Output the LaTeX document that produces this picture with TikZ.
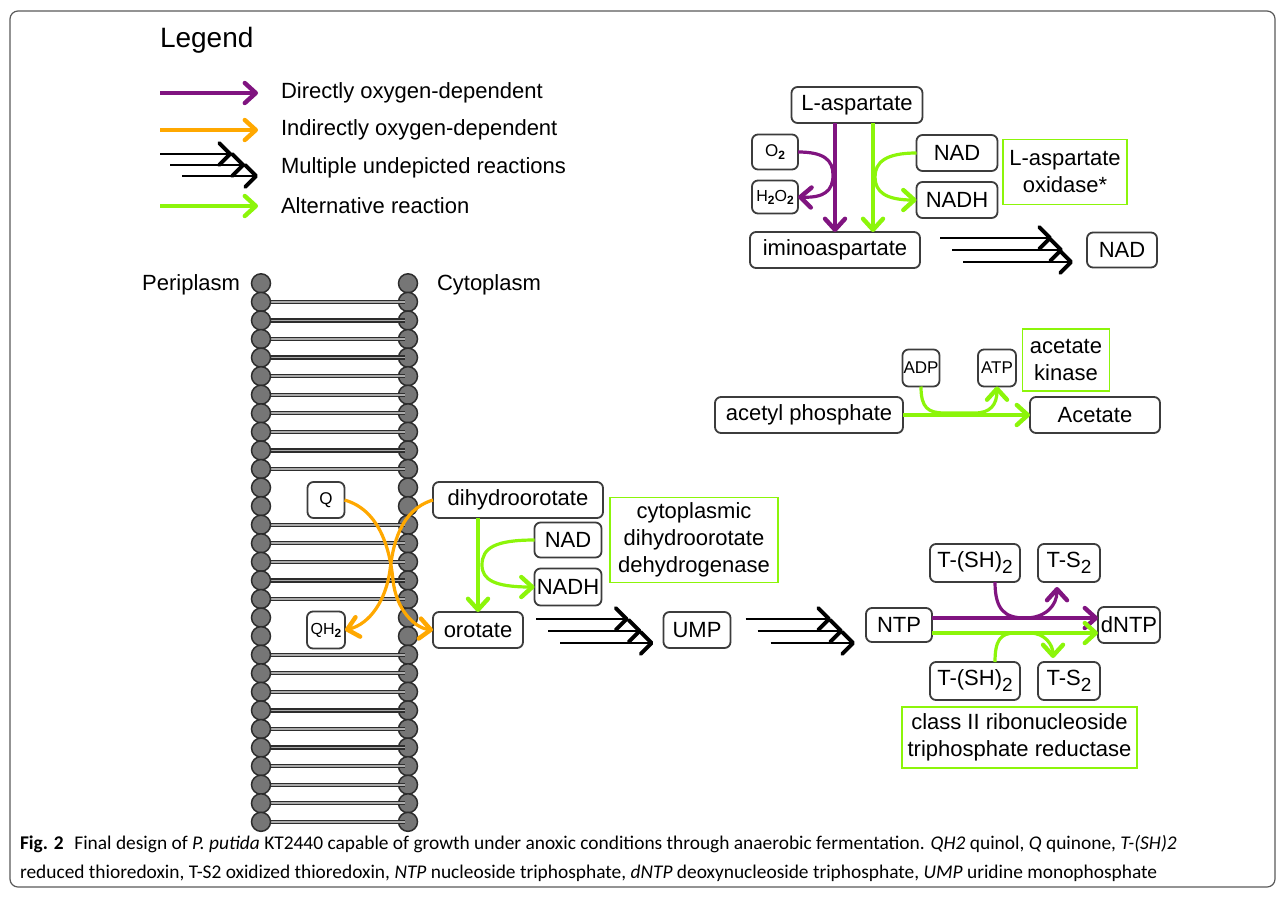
\documentclass[tikz,border=0pt]{standalone}
\usepackage{fontspec}
\setmainfont{Liberation Sans}
\newfontfamily\capfont{Carlito}
\usetikzlibrary{arrows.meta,calc}
\definecolor{purp}{RGB}{128,20,128}
\definecolor{orng}{RGB}{255,168,0}
\definecolor{lime}{RGB}{140,245,10}
\definecolor{boxline}{RGB}{60,60,60}
\definecolor{headfill}{RGB}{118,118,118}
\definecolor{headline}{RGB}{45,45,45}
\definecolor{tailin}{RGB}{170,170,170}
\newcommand\bsub[1]{\raisebox{-6pt}{\fontsize{19}{19}\selectfont #1}}
\newcommand\ssub[1]{\raisebox{-3pt}{\fontsize{12}{12}\selectfont\bfseries #1}}
\begin{document}
\begin{tikzpicture}[x=1pt,y=-1pt,
  every node/.style={inner sep=0pt, outer sep=0pt},
  mol/.style={draw=boxline, line width=1.8pt, rounded corners=6pt, fill=white, font=\fontsize{22}{26}\selectfont, align=center},
  smol/.style={mol, font=\fontsize{17}{19}\selectfont},
  enz/.style={draw=lime, line width=1.6pt, fill=white, font=\fontsize{22}{27}\selectfont, align=center},
  lab/.style={font=\fontsize{22}{26}\selectfont},
  purpA/.style={draw=purp, line width=3.2pt, -{Straight Barb[length=11pt,width=20pt,round,line width=4.4pt]}},
  orngA/.style={draw=orng, line width=3.2pt, -{Straight Barb[length=11pt,width=20pt,round,line width=4.4pt]}},
  limeA/.style={draw=lime, line width=3.2pt, -{Straight Barb[length=11pt,width=20pt,round,line width=4.4pt]}},
  multi/.style={draw=black, line width=2.8pt, -{Straight Barb[length=11pt,width=22pt,round,line width=3.8pt]}},
  headc/.style={fill=headfill, draw=headline, line width=1.5pt},
  tail/.style={draw=headline, line width=1.3pt, double=tailin, double distance=1.8pt},
  frame/.style={draw=black!65, line width=1.2pt, rounded corners=8pt}
]
\useasboundingbox (0,0) rectangle (1282,900);
\draw[frame] (10,11) rectangle (1275,887);

% ---------- Legend ----------
\node[font=\fontsize{28}{30}\selectfont, anchor=west] (legt) at (160,40) {Legend};
\coordinate (l1s) at (160,93); \coordinate (l1e) at (258,93);
\coordinate (l2s) at (160,130); \coordinate (l2e) at (258,130);
\coordinate (l4s) at (160,206); \coordinate (l4e) at (258,206);
\coordinate (l3as) at (160,154); \coordinate (l3ae) at (232,154);
\coordinate (l3bs) at (170,165); \coordinate (l3be) at (245,165);
\coordinate (l3cs) at (182,176); \coordinate (l3ce) at (258,176);
\draw[purpA] (l1s) -- (l1e);
\draw[orngA] (l2s) -- (l2e);
\draw[multi] (l3as) -- (l3ae);
\draw[multi] (l3bs) -- (l3be);
\draw[multi] (l3cs) -- (l3ce);
\draw[limeA] (l4s) -- (l4e);
\node[lab, anchor=west] (lt1) at (281,93) {Directly oxygen-dependent};
\node[lab, anchor=west] (lt2) at (281,130) {Indirectly oxygen-dependent};
\node[lab, anchor=west] (lt3) at (281,168) {Multiple undepicted reactions};
\node[lab, anchor=west] (lt4) at (281,206) {Alternative reaction};

% ---------- Membrane ----------
\node[lab, anchor=east] (peri) at (240,285) {Periplasm};
\node[lab, anchor=west] (cyto) at (437,285) {Cytoplasm};
\foreach \i in {0,...,29} {
  \pgfmathsetmacro\yy{283.3+18.57*\i}
  \draw[headc] (408,\yy) circle (9.5);
}
\foreach \i in {1,...,10} {\pgfmathsetmacro\yy{283.3+18.57*\i}\draw[tail] (261,\yy) -- (405,\yy);}
\foreach \i in {13,...,17} {\pgfmathsetmacro\yy{283.3+18.57*\i}\draw[tail] (261,\yy) -- (405,\yy);}
\foreach \i in {20,...,29} {\pgfmathsetmacro\yy{283.3+18.57*\i}\draw[tail] (261,\yy) -- (405,\yy);}
\foreach \i in {0,...,29} {
  \pgfmathsetmacro\yy{283.3+18.57*\i}
  \draw[headc] (261,\yy) circle (9.5);
}

% ---------- L-aspartate ----------
\node[mol, minimum width=131, minimum height=36] (lasp) at (857,105) {L-aspartate};
\node[smol, minimum width=46, minimum height=35] (o2) at (775,152) {O\ssub{2}};
\node[smol, minimum width=46, minimum height=33, font=\fontsize{16}{18}\selectfont] (h2o2) at (775,197) {H\ssub{2}O\ssub{2}};
\node[mol, minimum width=170, minimum height=36] (imino) at (835,250) {iminoaspartate};
\node[mol, minimum width=81, minimum height=36] (nad1) at (957,153) {NAD};
\node[mol, minimum width=81, minimum height=36] (nadh1) at (957,200) {NADH};
\node[enz, minimum width=124, minimum height=65] (laox) at (1065,172) {L-aspartate\\oxidase*};
\node[mol, minimum width=70, minimum height=35] (nad3) at (1122,250) {NAD};
\coordinate (pv) at (835,0);
\coordinate (gv) at (873,0);
\draw[purpA] (lasp.south -| pv) -- (imino.north -| pv);
\draw[purpA] (o2.east) .. controls (824,152) and (833,160) .. (833,175) .. controls (833,191) and (824,198) .. (h2o2.east);
\draw[limeA] (lasp.south -| gv) -- (imino.north -| gv);
\draw[limeA] (nad1.west) .. controls (886,153) and (875,162) .. (875,177) .. controls (875,192) and (886,200) .. (nadh1.west);
\draw[multi] ([shift={(20,-12)}]imino.east) -- ([shift={(-35,-12)}]nad3.west);
\draw[multi] ([shift={(32,0)}]imino.east) -- ([shift={(-24,0)}]nad3.west);
\draw[multi] ([shift={(43,12)}]imino.east) -- ([shift={(-14,12)}]nad3.west);

% ---------- Acetate ----------
\node[mol, minimum width=188, minimum height=36] (acp) at (809,415) {acetyl phosphate};
\node[smol, minimum width=37, minimum height=37] (adp) at (921,368) {ADP};
\node[smol, minimum width=38, minimum height=37] (atp) at (997,368) {ATP};
\node[enz, minimum width=87, minimum height=62] (acek) at (1066,360) {acetate\\kinase};
\node[mol, minimum width=130, minimum height=36] (acet) at (1095,415) {Acetate};
\draw[limeA] (acp.east) -- (acet.west);
\draw[limeA] (adp.south) .. controls (921,408) and (928,413) .. (945,413) -- (975,413) .. controls (990,413) and (997,405) .. (atp.south);

% ---------- Dihydroorotate ----------
\node[smol, minimum width=37, minimum height=36] (q) at (326,500) {Q};
\node[smol, minimum width=38, minimum height=37, font=\fontsize{16}{18}\selectfont] (qh2) at (326,630) {QH\ssub{2}};
\node[mol, minimum width=170, minimum height=36] (dhoro) at (518,500) {dihydroorotate};
\node[mol, minimum width=67, minimum height=35] (nad2) at (568,540) {NAD};
\node[mol, minimum width=67, minimum height=37] (nadh2) at (568,587) {NADH};
\node[enz, minimum width=168, minimum height=85] (cdhod) at (694,540) {cytoplasmic\\dihydroorotate\\dehydrogenase};
\node[mol, minimum width=90, minimum height=36] (orot) at (478,630) {orotate};
\node[mol, minimum width=67, minimum height=36] (ump) at (697,630) {UMP};
\draw[limeA] (dhoro.south -| orot.north) -- (orot.north);
\draw[limeA] (nad2.west) .. controls (495,540) and (482,548) .. (482,565) .. controls (482,580) and (495,587) .. (nadh2.west);
\draw[orngA] (q.east) .. controls (380,510) and (390,550) .. (393,580) .. controls (396,610) and (415,628) .. (orot.west);
\draw[orngA] (dhoro.west) .. controls (400,510) and (393,545) .. (390,570) .. controls (386,600) and (370,624) .. (qh2.east);
\draw[multi] ([shift={(13,-11)}]orot.east) -- ([shift={(-35,-11)}]ump.west);
\draw[multi] ([shift={(25,1)}]orot.east) -- ([shift={(-22,1)}]ump.west);
\draw[multi] ([shift={(37,13)}]orot.east) -- ([shift={(-10,13)}]ump.west);

% ---------- NTP ----------
\node[mol, minimum width=66, minimum height=34] (ntp) at (899,625) {NTP};
\node[mol, minimum width=62, minimum height=36] (dntp) at (1129,625) {dNTP};
\node[mol, minimum width=90, minimum height=38] (tsh1) at (975,563) {T-(SH)\bsub{2}};
\node[mol, minimum width=62, minimum height=38] (ts1) at (1069,563) {T-S\bsub{2}};
\node[mol, minimum width=90, minimum height=38] (tsh2) at (975,681) {T-(SH)\bsub{2}};
\node[mol, minimum width=62, minimum height=38] (ts2) at (1069,681) {T-S\bsub{2}};
\node[enz, minimum width=235, minimum height=61] (rnr) at (1019.5,737.5) {class II ribonucleoside\\triphosphate reductase};
\draw[multi] ([shift={(15,-11)}]ump.east) -- ([shift={(-35,-6)}]ntp.west);
\draw[multi] ([shift={(27,1)}]ump.east) -- ([shift={(-23,6)}]ntp.west);
\draw[multi] ([shift={(40,13)}]ump.east) -- ([shift={(-11,18)}]ntp.west);
\coordinate (pl) at (0,618);
\coordinate (gl) at (0,633);
\draw[purpA] (ntp.east |- pl) -- (dntp.west |- pl);
\draw[purpA] ([shift={(20,0)}]tsh1.south) .. controls (995,610) and (1005,618) .. (1025,618) .. controls (1045,618) and (1057,606) .. ([shift={(-12,5)}]ts1.south);
\draw[limeA] (ntp.east |- gl) -- (dntp.west |- gl);
\draw[limeA] ([shift={(20,0)}]tsh2.north) .. controls (995,641) and (1000,633) .. (1015,633) -- (1030,633) .. controls (1045,633) and (1053,645) .. ([shift={(-16,-4)}]ts2.north);

% ---------- Caption ----------
\node[anchor=base west, font=\capfont\fontsize{19.4}{22}\selectfont] (cap1) at (20,849) {\textbf{Fig. 2}\hspace{0.55em}Final design of \textit{P. putida} KT2440 capable of growth under anoxic conditions through anaerobic fermentation. \textit{QH2} quinol, \textit{Q} quinone, \textit{T-(SH)2}};
\node[anchor=base west, font=\capfont\fontsize{19.4}{22}\selectfont] (cap2) at (20,878) {reduced thioredoxin, T-S2 oxidized thioredoxin, \textit{NTP} nucleoside triphosphate, \textit{dNTP} deoxynucleoside triphosphate, \textit{UMP} uridine monophosphate};
\end{tikzpicture}
\end{document}
